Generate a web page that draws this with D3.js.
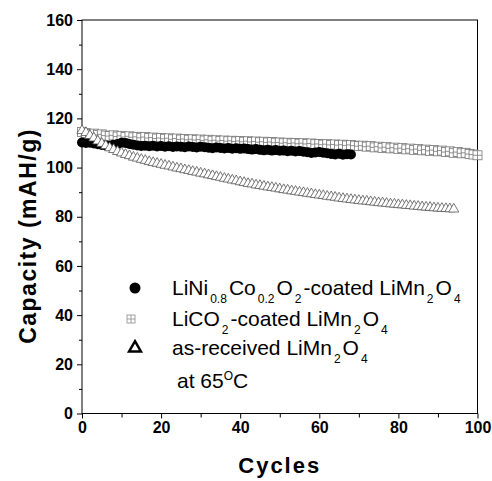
<!DOCTYPE html>
<html>
<head>
<meta charset="utf-8">
<script src="https://cdn.jsdelivr.net/npm/d3@7/dist/d3.min.js"></script>
<style>
  body { margin: 0; background: #fff; }
  text { font-family: "Liberation Sans", Arial, Helvetica, sans-serif; }
</style>
</head>
<body>
<div id="chart"></div>
<script>
// capacity (mAH/g) per cycle
const coatedNiCo = [
  110.2, 110.0, 110.1, 109.8, 109.5, 109.2, 109.0, 108.8, 109.3, 109.6,
  110.1, 110.0, 109.6, 109.3, 109.0, 108.8, 108.9, 108.7, 108.9, 108.6,
  108.8, 108.5, 108.7, 108.4, 108.6, 108.5, 108.3, 108.6, 108.4, 108.2,
  108.5, 108.3, 108.1, 107.9, 108.2, 108.0, 107.8, 108.0, 107.7, 107.9,
  107.6, 107.8, 107.5, 107.3, 107.5, 107.2, 107.0, 107.2, 106.9, 107.1,
  106.8, 106.9, 106.6, 106.8, 106.5, 106.7, 106.4, 106.2, 105.9, 106.1,
  106.3, 106.0, 105.8, 105.5, 105.3, 105.6, 105.2, 105.4, 105.3
];
const coatedLiCo = [
  114.5, 114.0, 113.6, 113.8, 113.2, 113.5, 113.0, 112.8, 113.1, 112.6,
  112.9, 112.4, 112.7, 112.3, 112.5, 112.1, 112.4, 112.0, 112.2, 111.8,
  112.0, 111.7, 111.9, 111.5, 111.8, 111.4, 111.6, 111.3, 111.5, 111.2,
  111.4, 111.0, 111.3, 110.9, 111.1, 110.8, 111.0, 110.7, 110.9, 110.6,
  110.8, 110.5, 110.7, 110.4, 110.6, 110.3, 110.5, 110.2, 110.4, 110.1,
  110.2, 109.9, 110.1, 109.8, 110.0, 109.7, 109.9, 109.6, 109.8, 109.5,
  109.6, 109.3, 109.5, 109.2, 109.4, 109.1, 109.3, 109.0, 109.2, 108.9,
  108.7, 108.9, 108.5, 108.7, 108.2, 108.5, 108.0, 108.3, 107.8, 108.1,
  107.6, 107.9, 107.4, 107.7, 107.2, 107.5, 107.0, 107.3, 106.8, 107.1,
  106.6, 106.9, 106.3, 106.6, 106.0, 106.3, 105.8, 106.0, 105.5, 105.3,
  105.0
];
const asReceived = [
  115.0, 114.2, 113.0, 112.0, 110.8, 109.8, 108.9, 108.0, 107.3, 106.5,
  105.9, 105.3, 104.8, 104.2, 103.8, 103.3, 102.9, 102.4, 102.0, 101.7,
  101.3, 100.9, 100.6, 100.2, 99.8, 99.5, 99.1, 98.8, 98.4, 98.1,
  97.7, 97.4, 97.0, 96.7, 96.3, 96.0, 95.6, 95.3, 94.9, 94.6,
  94.2, 93.9, 93.5, 93.3, 92.9, 92.7, 92.4, 92.1, 91.9, 91.6,
  91.3, 91.0, 90.8, 90.5, 90.3, 90.0, 89.8, 89.5, 89.3, 89.0,
  88.8, 88.6, 88.3, 88.1, 87.9, 87.6, 87.4, 87.2, 87.0, 86.8,
  86.6, 86.4, 86.3, 86.1, 85.9, 85.7, 85.6, 85.4, 85.2, 85.1,
  84.9, 84.8, 84.6, 84.5, 84.3, 84.2, 84.0, 83.9, 83.8, 83.6,
  83.5, 83.4, 83.3, 83.2, 83.1
];

const xTicks = [0, 20, 40, 60, 80, 100];
const xMinor = [10, 30, 50, 70, 90];
const yTicks = [0, 20, 40, 60, 80, 100, 120, 140, 160];
const yMinor = [10, 30, 50, 70, 90, 110, 130, 150];

const WIDTH = 492, HEIGHT = 481;
const MARGIN = { TOP: 20, LEFT: 82, RIGHT: 14.5, BOTTOM: 67.5 };
const PW = WIDTH - MARGIN.LEFT - MARGIN.RIGHT;
const PH = HEIGHT - MARGIN.TOP - MARGIN.BOTTOM;

const svg = d3.select("#chart").append("svg")
  .attr("width", WIDTH)
  .attr("height", HEIGHT);

const g = svg.append("g")
  .attr("transform", `translate(${MARGIN.LEFT},${MARGIN.TOP})`);

const x = d3.scaleLinear().domain([0, 100]).range([0, PW]);
const y = d3.scaleLinear().domain([0, 160]).range([PH, 0]);

// axes: major + minor ticks, pointing outward
g.append("g").attr("transform", `translate(0,${PH})`)
  .call(d3.axisBottom(x).tickValues(xMinor).tickSize(4).tickFormat(""));
const xAxis = g.append("g").attr("transform", `translate(0,${PH})`)
  .call(d3.axisBottom(x).tickValues(xTicks).tickSize(5).tickPadding(3));
g.append("g")
  .call(d3.axisLeft(y).tickValues(yMinor).tickSize(3).tickFormat(""));
const yAxis = g.append("g")
  .call(d3.axisLeft(y).tickValues(yTicks).tickSize(5).tickPadding(4));

g.selectAll(".domain").remove();
g.selectAll(".tick line").attr("stroke", "#000");
[xAxis, yAxis].forEach(a => a.selectAll("text")
  .attr("fill", "#000")
  .style("font-size", "16px")
  .style("font-weight", "bold"));

// frame
g.append("rect")
  .attr("width", PW).attr("height", PH)
  .attr("fill", "none").attr("stroke", "#000").attr("stroke-width", 1);

// squares with plus
const sq = 4.5;
const squares = g.append("g").attr("fill", "#fff").attr("stroke", "#777").attr("stroke-width", 0.8);
coatedLiCo.forEach((v, i) => {
  const cx = x(i), cy = y(v);
  squares.append("rect").attr("x", cx - sq).attr("y", cy - sq).attr("width", 2 * sq).attr("height", 2 * sq);
  squares.append("path").attr("d", `M${cx - sq},${cy}H${cx + sq}M${cx},${cy - sq}V${cy + sq}`);
});

// filled circles
g.append("g").selectAll("circle")
  .data(coatedNiCo)
  .enter().append("circle")
  .attr("cx", (d, i) => x(i))
  .attr("cy", d => y(d))
  .attr("r", 5)
  .attr("fill", "#000");

// open triangles
const tri = d3.symbol().type(d3.symbolTriangle).size(44);
g.append("g").selectAll("path")
  .data(asReceived)
  .enter().append("path")
  .attr("d", tri)
  .attr("transform", (d, i) => `translate(${x(i)},${y(d)})`)
  .attr("fill", "#fff")
  .attr("stroke", "#555")
  .attr("stroke-width", 0.8);

// axis titles
svg.append("text")
  .attr("x", MARGIN.LEFT + PW / 2)
  .attr("y", 473)
  .attr("text-anchor", "middle")
  .style("font-size", "22px")
  .style("font-weight", "bold")
  .style("letter-spacing", "2px")
  .text("Cycles");

svg.append("text")
  .attr("transform", "translate(36,236) rotate(-90)")
  .attr("text-anchor", "middle")
  .style("font-size", "23px")
  .style("font-weight", "bold")
  .style("letter-spacing", "1.5px")
  .text("Capacity (mAH/g)");

// legend
const legend = svg.append("g");
const LX = 172, FS = "21px", SS = "12px";

legend.append("circle").attr("cx", 135).attr("cy", 288).attr("r", 5.5).attr("fill", "#000");
legend.append("rect").attr("x", 127).attr("y", 315).attr("width", 8).attr("height", 8)
  .attr("fill", "#fff").attr("stroke", "#8a8a8a").attr("stroke-width", 0.8);
legend.append("path").attr("d", "M127,319H135M131,315V323").attr("stroke", "#8a8a8a").attr("stroke-width", 0.8);
legend.append("path").attr("d", d3.symbol().type(d3.symbolTriangle).size(60))
  .attr("transform", "translate(135,348)")
  .attr("fill", "none").attr("stroke", "#000").attr("stroke-width", 2.5);

function richLine(yPos, parts) {
  const t = legend.append("text").attr("x", LX).attr("y", yPos).style("font-size", FS);
  parts.forEach(p => {
    const s = t.append("tspan").text(p.t);
    if (p.sub) s.style("font-size", SS).attr("dy", 8).attr("dx", 2);
    else if (p.sup) s.style("font-size", SS).attr("dy", -8);
    else if (p.back) s.attr("dy", p.back).attr("dx", p.dx || 2);
  });
  return t;
}

richLine(295, [
  { t: "LiNi" }, { t: "0.8", sub: true }, { t: "Co", back: -8 },
  { t: "0.2", sub: true }, { t: "O", back: -8 }, { t: "2", sub: true },
  { t: "-coated LiMn", back: -8 }, { t: "2", sub: true }, { t: "O", back: -8 },
  { t: "4", sub: true }
]);
richLine(326, [
  { t: "LiCO" }, { t: "2", sub: true }, { t: "-coated LiMn", back: -8 },
  { t: "2", sub: true }, { t: "O", back: -8 }, { t: "4", sub: true }
]);
richLine(355, [
  { t: "as-received LiMn" }, { t: "2", sub: true }, { t: "O", back: -8 },
  { t: "4", sub: true }
]);
legend.append("text").attr("x", 177).attr("y", 388).style("font-size", FS)
  .call(t => {
    t.append("tspan").text("at 65");
    t.append("tspan").text("O").style("font-size", SS).attr("dy", -8);
    t.append("tspan").text("C").attr("dy", 8);
  });
</script>
</body>
</html>
